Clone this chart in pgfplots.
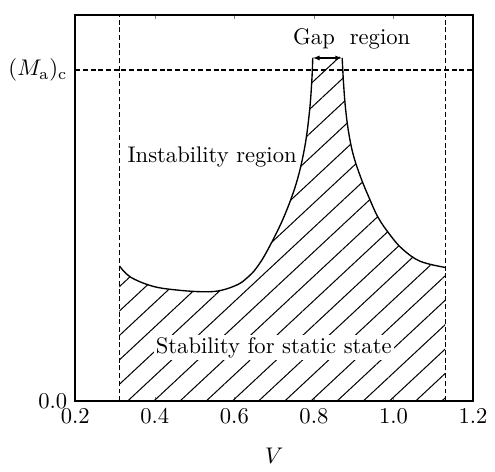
\documentclass[border=0pt]{standalone}
\usepackage{pgfplots}
\pgfplotsset{compat=1.18}
\usetikzlibrary{patterns.meta,arrows.meta}

\begin{document}
\begin{tikzpicture}
\begin{axis}[
  name=ax,
  scale only axis, width=176pt, height=171pt,
  xmin=0.2, xmax=1.2, ymin=0, ymax=1,
  xtick={0.2,0.4,...,1.2},
  xticklabel style={/pgf/number format/.cd,fixed,fixed zerofill,precision=1},
  ytick={0,0.856}, yticklabels={0.0,{$(M_{\mathrm{a}})_{\mathrm{c}}$}},
  ytick style={draw=none},
  tick align=inside, major tick length=2pt,
  axis line style={line width=0.9pt},
  xlabel={$V$}, xlabel style={yshift=-4pt},
  clip=false,
]
% stable region (hatched)
\addplot[draw=none, smooth, tension=0.6,
  pattern={Lines[angle=43,distance=7.9pt,line width=0.45pt]}] coordinates {
 (0.311,0.350) (0.339,0.321) (0.396,0.297) (0.461,0.287) (0.527,0.283)
 (0.568,0.287) (0.609,0.302) (0.633,0.320) (0.655,0.344) (0.682,0.388)
 (0.723,0.473) (0.756,0.565) (0.777,0.658) (0.789,0.751) (0.795,0.835)
 (0.797,0.888) (0.871,0.888) (0.874,0.830) (0.879,0.762) (0.887,0.697)
 (0.899,0.637) (0.918,0.578) (0.938,0.528) (0.961,0.476) (0.990,0.432)
 (1.022,0.394) (1.067,0.362) (1.130,0.346)} \closedcycle;
% boundary, left branch
\addplot[black, line width=0.6pt, smooth, tension=0.6] coordinates {
 (0.311,0.350) (0.339,0.321) (0.396,0.297) (0.461,0.287) (0.527,0.283)
 (0.568,0.287) (0.609,0.302) (0.633,0.320) (0.655,0.344) (0.682,0.388)
 (0.723,0.473) (0.756,0.565) (0.777,0.658) (0.789,0.751) (0.795,0.835)
 (0.797,0.888)};
% boundary, right branch
\addplot[black, line width=0.6pt, smooth, tension=0.6] coordinates {
 (0.871,0.888) (0.874,0.830) (0.879,0.762) (0.887,0.697) (0.899,0.637)
 (0.918,0.578) (0.938,0.528) (0.961,0.476) (0.990,0.432) (1.022,0.394)
 (1.067,0.362) (1.130,0.346)};
% dashed guides
\addplot[black, line width=0.8pt, dash pattern=on 2.2pt off 1.2pt] coordinates {(0.2,0.856) (1.2,0.856)};
\addplot[black, line width=0.6pt, dash pattern=on 2.2pt off 1.2pt] coordinates {(0.311,0) (0.311,1)};
\addplot[black, line width=0.6pt, dash pattern=on 2.2pt off 1.2pt] coordinates {(1.130,0) (1.130,1)};
% gap
\draw[line width=0.9pt, {Latex[length=3pt]}-{Latex[length=3pt]}]
  (axis cs:0.797,0.888) -- (axis cs:0.871,0.888);
\node at (axis cs:0.895,0.937) {Gap\ \ region};
\node at (axis cs:0.544,0.633) {Instability region};
\node[fill=white, inner sep=1pt] at (axis cs:0.699,0.139) {Stability for static state};
\end{axis}
\path (ax.north west) ++(-33.3pt,6.5pt) coordinate (bb1);
\path (ax.south east) ++(4.8pt,-23pt) coordinate (bb2);
\path (bb1) rectangle (bb2);
\end{tikzpicture}
\end{document}
